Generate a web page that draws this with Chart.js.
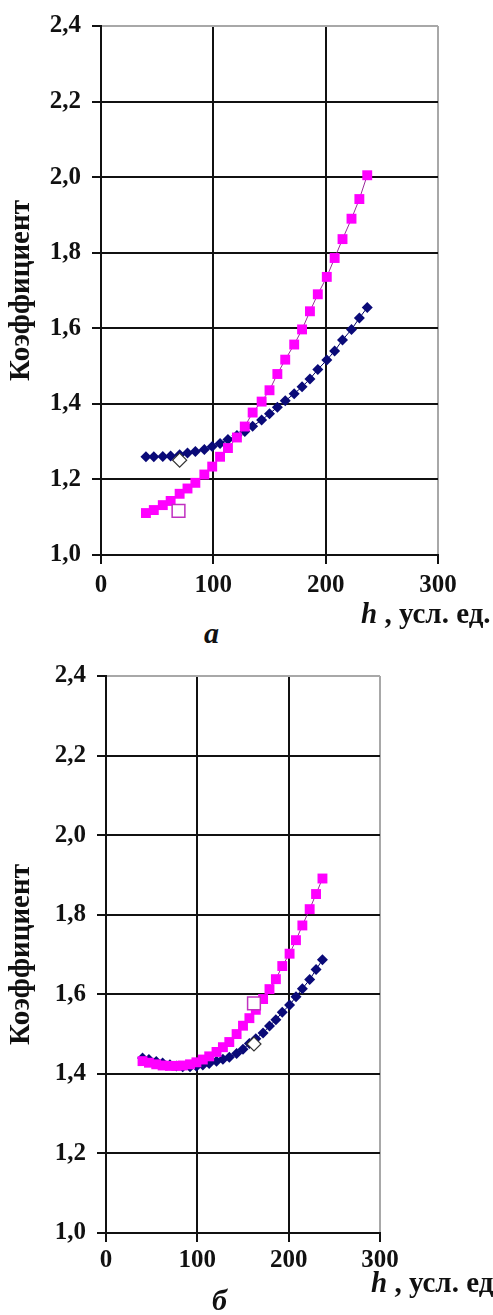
<!DOCTYPE html>
<html>
<head>
<meta charset="utf-8">
<script src="https://cdn.jsdelivr.net/npm/chart.js@4.4.1/dist/chart.umd.min.js"></script>
<style>
  body { margin: 0; background: #fff; width: 493px; height: 1315px; position: relative; overflow: hidden; }
  canvas { position: absolute; left: 0; }
  .lbl { position: absolute; font-family: "Liberation Serif", serif; font-weight: bold; color: #111; white-space: nowrap; line-height: 1; }
  .lbl i { font-style: italic; }
</style>
</head>
<body>
<canvas id="chartA" width="493" height="600" style="top:0"></canvas>
<canvas id="chartB" width="493" height="623" style="top:650px"></canvas>

<div class="lbl" style="left:361px; top:599px; font-size:29px;"><i>h</i> , усл. ед.</div>
<div class="lbl" style="left:204px; top:618px; font-size:30px;"><i>а</i></div>
<div class="lbl" style="left:371px; top:1268px; font-size:29px;"><i>h</i> , усл. ед.</div>
<div class="lbl" style="left:212px; top:1285px; font-size:30px;"><i>б</i></div>

<script>
// общие значения h (усл. ед.)
const hValues = [40, 47, 55, 62, 70, 77, 84, 92, 99, 106, 113, 121, 128, 135,
  143, 150, 157, 164, 172, 179, 186, 193, 201, 208, 215, 223, 230, 237];

// график а
const pinkA = [1.111, 1.119, 1.132, 1.143, 1.162, 1.176, 1.191, 1.213, 1.234, 1.260,
  1.283, 1.311, 1.340, 1.377, 1.406, 1.436, 1.479, 1.517, 1.557, 1.597,
  1.645, 1.690, 1.736, 1.786, 1.836, 1.890, 1.942, 2.005];
const blueA = [1.260, 1.260, 1.261, 1.262, 1.265, 1.270, 1.274, 1.279, 1.287, 1.295,
  1.306, 1.316, 1.327, 1.341, 1.357, 1.374, 1.391, 1.408, 1.427, 1.445,
  1.466, 1.491, 1.516, 1.540, 1.569, 1.597, 1.627, 1.655];
const openSquareA = [{ x: 69, y: 1.117 }];
const openDiamondA = [{ x: 70, y: 1.251 }];

// график б
const pinkB = [1.432, 1.428, 1.424, 1.421, 1.420, 1.420, 1.421, 1.424, 1.429, 1.436,
  1.444, 1.455, 1.467, 1.480, 1.500, 1.521, 1.540, 1.561, 1.588, 1.613,
  1.638, 1.671, 1.702, 1.736, 1.773, 1.814, 1.852, 1.891];
const blueB = [1.440, 1.436, 1.431, 1.427, 1.423, 1.420, 1.418, 1.418, 1.419, 1.422,
  1.426, 1.432, 1.437, 1.442, 1.451, 1.462, 1.476, 1.488, 1.503, 1.520,
  1.536, 1.555, 1.573, 1.594, 1.614, 1.637, 1.662, 1.687];
const openSquareB = [{ x: 162, y: 1.577 }];
const openDiamondB = [{ x: 162, y: 1.475 }];

// оси
const xTicks = [0, 100, 200, 300];
const yTicks = [1.0, 1.2, 1.4, 1.6, 1.8, 2.0, 2.2, 2.4];
const yTickLabels = ["1,0", "1,2", "1,4", "1,6", "1,8", "2,0", "2,2", "2,4"];
const yTitle = "Коэффициент";

const INK = "#111";
const EDGE = "#a8a8a8";
const tickFont = { family: "Liberation Serif", weight: "bold", size: 25 };

function toPoints(xs, ys) {
  return xs.map((x, i) => ({ x: x, y: ys[i] }));
}

function makeChart(id, pink, blue, openSq, openDia, lay) {
  const ctx = document.getElementById(id).getContext("2d");
  return new Chart(ctx, {
    type: "scatter",
    data: {
      datasets: [
        {
          data: openSq,
          pointStyle: "rect",
          pointRadius: 9,
          pointBackgroundColor: "#fff",
          pointBorderColor: "#c030c0",
          pointBorderWidth: 1.5,
          showLine: false,
          order: 0,
        },
        {
          data: openDia,
          pointStyle: "rectRot",
          pointRadius: 7,
          pointBackgroundColor: "#fff",
          pointBorderColor: "#333",
          pointBorderWidth: 1.2,
          showLine: false,
          order: 0,
        },
        {
          data: toPoints(hValues, pink),
          showLine: true,
          borderColor: "#9a2a9a",
          borderWidth: 1,
          pointStyle: "rect",
          pointRadius: 7,
          pointBackgroundColor: "#ff00ff",
          pointBorderColor: "#ff00ff",
          pointBorderWidth: 0,
          order: 1,
        },
        {
          data: toPoints(hValues, blue),
          showLine: true,
          borderColor: "#000066",
          borderWidth: 1,
          pointStyle: "rectRot",
          pointRadius: 5.5,
          pointBackgroundColor: "#0a0a78",
          pointBorderColor: "#0a0a78",
          pointBorderWidth: 0,
          order: 2,
        },
      ],
    },
    options: {
      responsive: false,
      animation: false,
      layout: { padding: { top: lay.top, right: lay.right, left: 0, bottom: 0 } },
      plugins: { legend: { display: false }, tooltip: { enabled: false } },
      scales: {
        x: {
          type: "linear",
          min: 0,
          max: 300,
          afterBuildTicks: (s) => { s.ticks = xTicks.map((v) => ({ value: v })); },
          afterFit: (s) => { s.height = lay.xh; },
          border: { color: INK, width: 2 },
          grid: {
            color: (c) => (c.tick && c.tick.value === 300 ? EDGE : INK),
            lineWidth: 2,
            tickLength: 9,
            tickColor: INK,
            tickWidth: 2,
          },
          ticks: { font: tickFont, color: INK, padding: lay.xpad, maxRotation: 0 },
        },
        y: {
          min: 1.0,
          max: 2.4,
          afterBuildTicks: (s) => { s.ticks = yTicks.map((v) => ({ value: v })); },
          afterFit: (s) => { s.width = lay.yw; },
          border: { color: INK, width: 2 },
          grid: {
            color: (c) => (c.tick && Math.abs(c.tick.value - 2.4) < 1e-6 ? EDGE : INK),
            lineWidth: 2,
            tickLength: 9,
            tickColor: INK,
            tickWidth: 2,
          },
          ticks: {
            font: tickFont,
            color: INK,
            padding: 11,
            callback: (v, i) => yTickLabels[i],
          },
          title: {
            display: true,
            text: yTitle,
            color: INK,
            font: { family: "Liberation Serif", weight: "bold", size: 29 },
            padding: { top: 4, bottom: 0 },
          },
        },
      },
    },
  });
}

makeChart("chartA", pinkA, blueA, openSquareA, openDiamondA,
  { top: 16, right: 55, yw: 101, xh: 45, xpad: 7 });
makeChart("chartB", pinkB, blueB, openSquareB, openDiamondB,
  { top: 21, right: 113, yw: 106, xh: 40, xpad: 4 });
</script>
</body>
</html>
